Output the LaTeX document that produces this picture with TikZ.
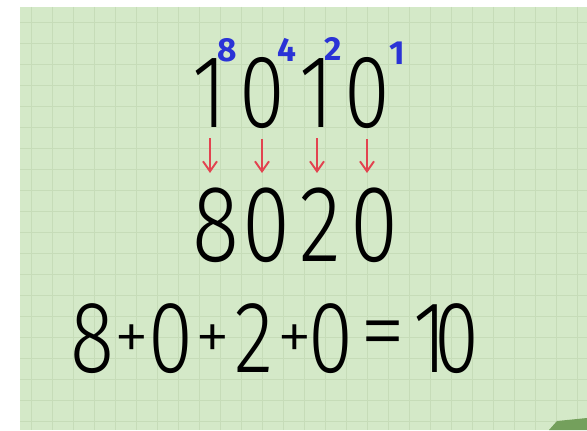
\documentclass[tikz,border=0pt]{standalone}
\usepackage{fontspec}
\newfontfamily\handfont{Fira Sans Light}[FakeStretch=0.8]
\newfontfamily\opfont{Fira Sans Light}
\newfontfamily\weightfont{Fira Sans}
\usetikzlibrary{arrows.meta}
\definecolor{paper}{HTML}{D4E9C8}
\definecolor{gridline}{HTML}{C6DCB8}
\definecolor{weightblue}{HTML}{2A33D6}
\definecolor{arrowred}{HTML}{E2434F}
\definecolor{logogreen}{HTML}{74A05C}
\tikzset{
  bitdigit/.style={inner sep=0pt, anchor=base, font=\handfont\fontsize{59}{59}\selectfont},
  valdigit/.style={inner sep=0pt, anchor=base, font=\handfont\fontsize{62}{62}\selectfont},
  sumdigit/.style={inner sep=0pt, anchor=base, font=\handfont\fontsize{58}{58}\selectfont},
  sumop/.style={inner sep=0pt, font=\opfont\fontsize{40}{40}\selectfont},
  sumeq/.style={inner sep=0pt, font=\opfont\fontsize{52}{52}\selectfont},
  weight/.style={inner sep=0pt, anchor=base, text=weightblue, font=\weightfont\bfseries\fontsize{19}{19}\selectfont},
  downarrow/.style={arrowred, line width=1.1pt, -{Straight Barb[length=2mm,width=2.8mm]}}
}
\begin{document}
\begin{tikzpicture}[x=0.2mm,y=-0.2mm]
				\useasboundingbox (0,0) rectangle (587,431);
				% paper
				\fill [white] (0,0) rectangle (587,431);
				\fill [paper] (20,7) rectangle (587,430);
				\foreach \gx in {31,52,...,587}
					\draw [gridline, line width=0.5pt] (\gx,7) -- (\gx,430);
				\foreach \gy in {22,43,...,430}
					\draw [gridline, line width=0.5pt] (20,\gy) -- (587,\gy);
				\fill [logogreen] (549,430) -- (557,421) -- (587,418) -- (587,430) -- cycle;
				% binary number with place values
				\foreach \i/\gx/\txt in {1/210/1, 2/262/0, 3/317/1, 4/367/0}
					\node [bitdigit] (bit\i) at (\gx,128) {\txt};
				\foreach \i/\gx/\gy/\txt in {1/227/62/8, 2/287/62/4, 3/333/61/2, 4/397/65/1}
					\node [weight] (wt\i) at (\gx,\gy) {\txt};
				% place values times digits
				\foreach \i/\gx/\txt in {1/216/8, 2/266/0, 3/320/2, 4/374/0}
					\node [valdigit] (val\i) at (\gx,262) {\txt};
				\foreach \i in {1,...,4}
					\draw [downarrow, shorten <=2mm, shorten >=3mm] (bit\i.south) -- (bit\i.south |- val\i.north);
				% sum
				\foreach \i/\gx/\txt in {1/92/8, 2/171/0, 3/254/2, 4/331/0, 5/430/1, 6/457/0}
					\node [sumdigit] (sum\i) at (\gx,372) {\txt};
				\foreach \i/\gx in {1/132, 2/213, 3/295}
					\node [sumop] (op\i) at (\gx,343) {+};
				\node [sumeq] (eq) at (383,341) {=};
			\end{tikzpicture}
\end{document}
